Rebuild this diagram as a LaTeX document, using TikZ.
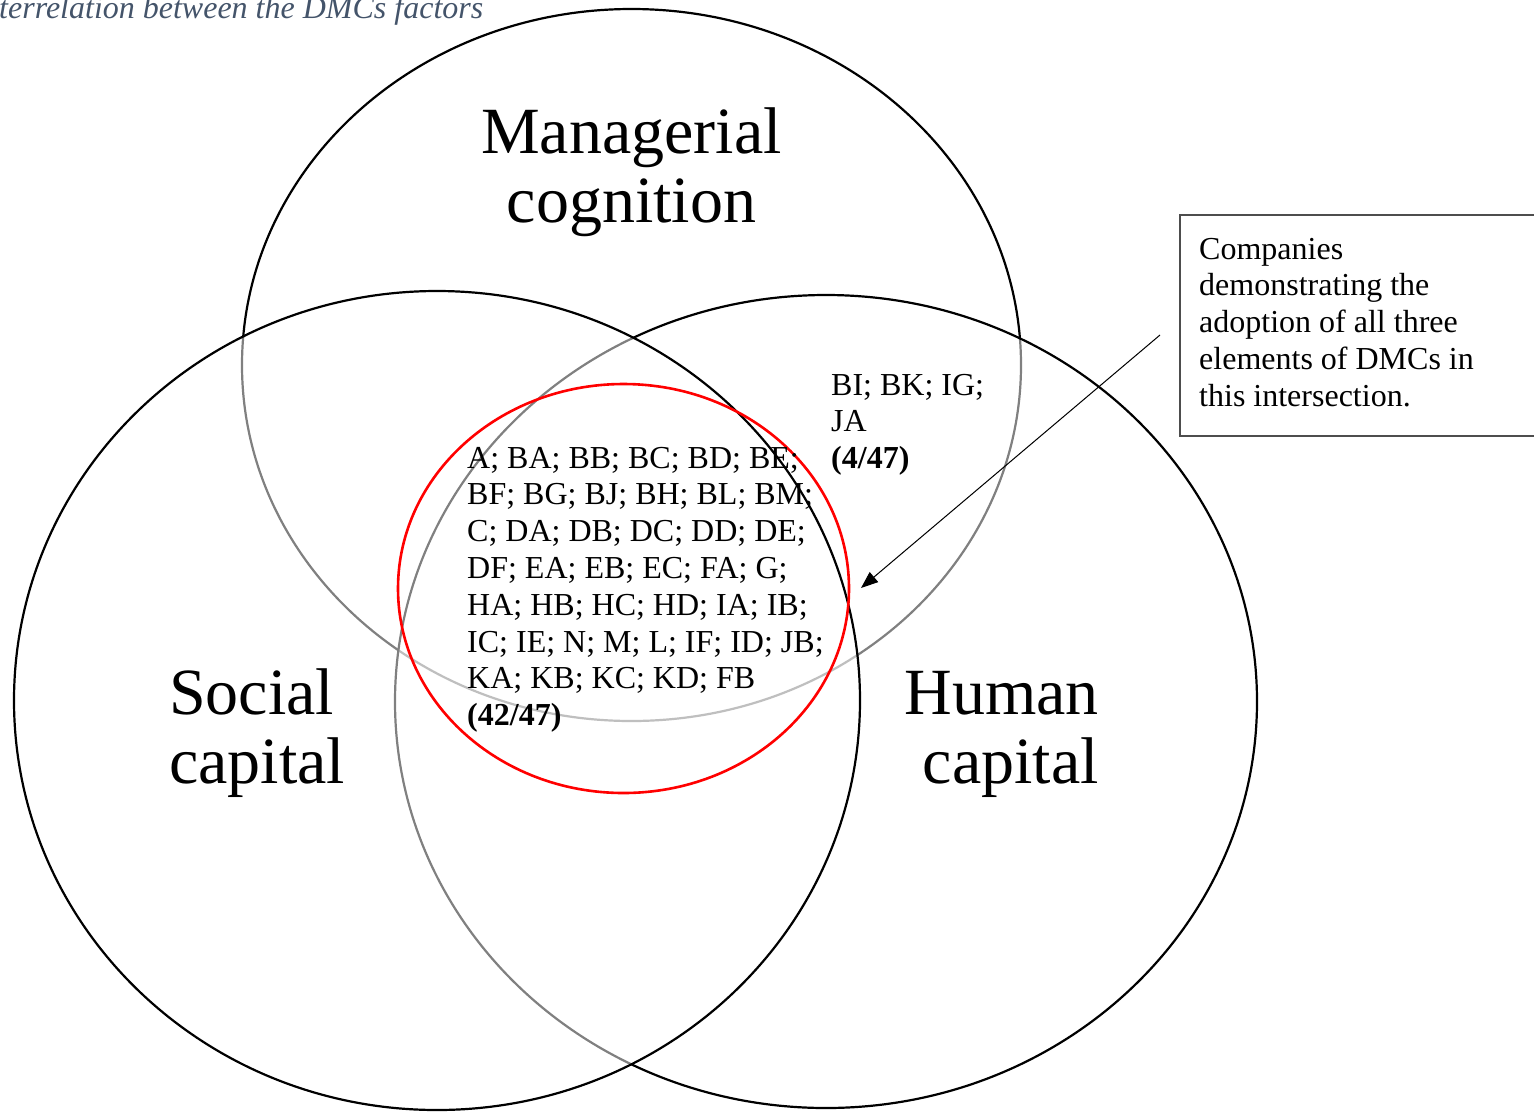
\documentclass[tikz,border=0pt]{standalone}
\usepackage{fontspec}
\setmainfont{Liberation Serif}
\usetikzlibrary{shapes.geometric,arrows.meta}
\definecolor{titleblue}{HTML}{44546A}
\definecolor{boxgray}{HTML}{4D4D4D}
\begin{document}
\begin{tikzpicture}[x=1pt,y=-1pt,
  venn/.style={ellipse, draw=black, line width=2.2pt, inner sep=0pt, outer sep=0pt},
  washed/.style={venn, fill=white, fill opacity=0.5},
  core/.style={ellipse, draw=red, line width=2.6pt, inner sep=0pt, outer sep=0pt},
  biglabel/.style={inner sep=0pt, font=\fontsize{66}{69}\selectfont},
  codes/.style={inner sep=0pt, align=left, font=\fontsize{32}{36.8}\selectfont},
  callout/.style={-{Triangle[length=17pt,width=13pt]}, line width=1pt},
]
\useasboundingbox (0,0) rectangle (1534,1112);
\clip (0,0) rectangle (1534,1112);

% caption line running off the top left corner
\node[anchor=base west, inner sep=0pt, text=titleblue,
      font=\itshape\fontsize{32}{36}\selectfont] (title) at (-1,18.3)
  {terrelation between the DMCs factors};

% the three factor sets; the lower two are washed with half-transparent white
\node[venn, minimum width=779pt, minimum height=712pt] (managerial) at (631.5,365) {};
\node[washed, minimum width=862pt, minimum height=813pt] (human) at (826,701.5) {};
\node[washed, minimum width=846pt, minimum height=819pt] (social) at (437,700.5) {};

% common core of all three factors
\node[core, minimum width=451pt, minimum height=409pt] (core) at (623.5,588.5) {};

% factor names (multi-line nodes sit on the baseline of their last line)
\node[biglabel, anchor=base, align=center] (mclabel) at (631.5,222) {Managerial\\cognition};
\node[biglabel, anchor=base west, align=left] (sclabel) at (169,783) {Social\\capital};
\node[biglabel, anchor=base east, align=right] (hclabel) at (1099,783) {Human\\capital};

% company codes
\node[codes, anchor=base west] (allthree) at (467,725.6)
  {A; BA; BB; BC; BD; BE;\\
   BF; BG; BJ; BH; BL; BM;\\
   C; DA; DB; DC; DD; DE;\\
   DF; EA; EB; EC; FA; G;\\
   HA; HB; HC; HD; IA; IB;\\
   IC; IE; N; M; L; IF; ID; JB;\\
   KA; KB; KC; KD; FB\\
   \textbf{(42/47)}};
\node[codes, anchor=base west] (mchc) at (831,468.6)
  {BI; BK; IG;\\JA\\\textbf{(4/47)}};

% explanatory note with its pointer
\node[draw=boxgray, line width=2pt, fill=white, anchor=north west,
      minimum width=372pt, minimum height=221pt, inner sep=0pt] (note) at (1179,214) {};
\node[codes, anchor=base west] (notetext) at (1199,406.2)
  {Companies\\demonstrating the\\adoption of all three\\elements of DMCs in\\this intersection.};
\coordinate (calloutFrom) at (1160,335);
\coordinate (calloutTo) at (861,588);
\draw[callout] (calloutFrom) -- (calloutTo);
\end{tikzpicture}
\end{document}
